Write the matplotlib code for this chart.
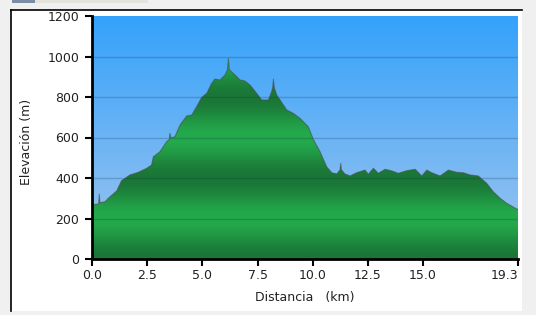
import numpy as np
import matplotlib
matplotlib.use('Agg')
import matplotlib.pyplot as plt
import matplotlib.patches as mpatches
import matplotlib.lines as mlines
from matplotlib.colors import to_rgb

# elevation profile
dist_km = [0.0, 0.15, 0.30, 0.33, 0.36, 0.59, 0.82, 1.12, 1.34, 1.72, 2.10, 2.48,
           2.70, 2.78, 3.08, 3.38, 3.50, 3.53, 3.58, 3.76, 3.99, 4.29, 4.52, 4.74,
           4.97, 5.20, 5.42, 5.57, 5.80, 6.03, 6.14, 6.18, 6.22, 6.40, 6.71, 6.93,
           7.16, 7.46, 7.69, 7.99, 8.14, 8.19, 8.22, 8.26, 8.37, 8.52, 8.82, 9.12,
           9.42, 9.80, 10.03, 10.33, 10.63, 10.86, 11.09, 11.24, 11.27, 11.30, 11.46,
           11.69, 11.99, 12.37, 12.52, 12.75, 12.97, 13.28, 13.58, 13.88, 14.26,
           14.64, 14.94, 15.17, 15.39, 15.77, 16.15, 16.52, 16.82, 17.13, 17.50,
           17.88, 18.18, 18.49, 18.79, 19.24, 19.30]
elev_m = [265, 270, 272, 320, 278, 283, 308, 336, 387, 415, 428, 448,
          464, 505, 530, 579, 590, 620, 598, 604, 662, 706, 711, 752,
          798, 818, 867, 889, 884, 909, 935, 990, 935, 917, 884, 879,
          859, 818, 785, 785, 826, 850, 888, 845, 810, 785, 736, 719,
          695, 653, 590, 530, 456, 426, 420, 440, 472, 440, 420,
          410, 426, 439, 418, 448, 423, 443, 435, 423, 436,
          443, 410, 439, 426, 410, 439, 428, 426, 415, 410,
          374, 332, 300, 275, 247, 245]

xticks = [0.0, 2.5, 5.0, 7.5, 10.0, 12.5, 15.0, 19.3]
xticklabels = ['0.0', '2.5', '5.0', '7.5', '10.0', '12.5', '15.0', '19.3']
yticks = [0, 200, 400, 600, 800, 1000, 1200]

W, H = 536, 315
fig = plt.figure(figsize=(W / 100, H / 100), dpi=100)
fig.patch.set_facecolor('#f0f0f0')

# white panel with black top/left border, little tab on top
fig.patches.append(mpatches.Rectangle((11 / W, 1 - 311 / H), (522 - 11) / W, (311 - 10) / H,
                                      transform=fig.transFigure, facecolor='white',
                                      edgecolor='none', zorder=-10))
fig.lines.append(mlines.Line2D([11 / W, 11 / W], [1 - 311 / H, 1 - 10 / H],
                               transform=fig.transFigure, color='black', lw=1.2,
                               zorder=-5))
fig.lines.append(mlines.Line2D([11 / W, 522 / W], [1 - 10 / H, 1 - 10 / H],
                               transform=fig.transFigure, color='black', lw=1.2,
                               zorder=-5))
fig.patches.append(mpatches.Rectangle((12 / W, 1 - 3 / H), 23 / W, 3 / H,
                                      transform=fig.transFigure, facecolor='#7c8ca4',
                                      edgecolor='none', zorder=-5))
fig.patches.append(mpatches.Rectangle((35 / W, 1 - 3 / H), 113 / W, 3 / H,
                                      transform=fig.transFigure, facecolor='#e4e4dc',
                                      edgecolor='none', zorder=-5))

ax = fig.add_axes([92 / W, 1 - 259 / H, (518 - 92) / W, (259 - 16) / H])
ax.patch.set_alpha(0)
xmax, ymax = 19.3, 1200

# sky gradient
top_c = np.array(to_rgb('#34a2fb'))
bot_c = np.array(to_rgb('#a2c6ee'))
t = np.linspace(0, 1, 256)[:, None]
sky = (top_c * (1 - t) + bot_c * t)[:, None, :]
ax.imshow(sky, extent=[0, xmax, 0, ymax], aspect='auto', zorder=0,
          interpolation='bilinear')

# green banded gradient, clipped to the profile
ev = np.linspace(ymax, 0, 600)
phase = 0.5 - 0.5 * np.cos(2 * np.pi * ev / 400.0)
dark = np.array(to_rgb('#1a7636'))
light = np.array(to_rgb('#24aa4c'))
green = (dark * (1 - phase[:, None]) + light * phase[:, None])[:, None, :]
poly = ax.fill_between(dist_km, elev_m, 0, facecolor='none', edgecolor='none')
gim = ax.imshow(green, extent=[0, xmax, 0, ymax], aspect='auto', zorder=1,
                interpolation='bilinear')
gim.set_clip_path(poly.get_paths()[0], transform=ax.transData)

for y in yticks[1:-1]:
    ax.axhline(y, color='#0a2a48', alpha=0.22, lw=1.0, zorder=2)

ax.plot(dist_km, elev_m, color='#4a4a4a', lw=0.8, alpha=0.6, zorder=3)

ax.set_xlim(0, xmax)
ax.set_ylim(0, ymax)
ax.set_xticks(xticks)
ax.set_xticklabels(xticklabels)
ax.set_yticks(yticks)
ax.get_xticklabels()[-1].set_horizontalalignment('right')
for s in ['top', 'right']:
    ax.spines[s].set_visible(False)
for s in ['left', 'bottom']:
    ax.spines[s].set_linewidth(2.0)
    ax.spines[s].set_color('black')
    ax.spines[s].set_zorder(5)
ax.tick_params(axis='both', direction='out', length=5, width=1.5, colors='black',
               labelsize=9, labelcolor='#222222')
ax.tick_params(axis='x', pad=2)
ax.tick_params(axis='y', pad=4)

fig.text(305 / W, 1 - 298 / H, 'Distancia   (km)', ha='center', va='center',
         fontsize=9, color='#222222')
fig.text(27 / W, 1 - 142 / H, 'Elevación (m)', ha='center', va='center',
         rotation=90, fontsize=9, color='#222222')

fig.savefig('out.png', dpi=100, facecolor=fig.get_facecolor())
